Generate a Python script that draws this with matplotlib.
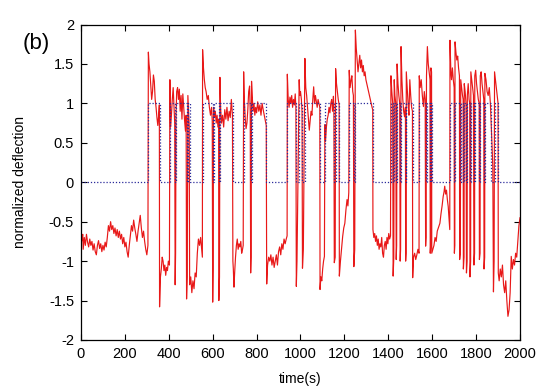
import matplotlib
matplotlib.use('Agg')
import matplotlib.pyplot as plt

# red trace: (time in s, normalized deflection)
trace = [
    (0, -0.78), (5, -0.72), (8, -0.66), (10, -0.85), (15, -0.70), (20, -0.80), (25, -0.66), (30, -0.76), (35, -0.82),
    (40, -0.72), (45, -0.80), (50, -0.75), (55, -0.86), (60, -0.78), (65, -0.88), (70, -0.92), (75, -0.80),
    (80, -0.74), (85, -0.84), (90, -0.78), (95, -0.88), (100, -0.80), (105, -0.86), (110, -0.76), (115, -0.82),
    (120, -0.70), (125, -0.55), (130, -0.62), (135, -0.50), (140, -0.60), (145, -0.55), (150, -0.65), (155, -0.58),
    (160, -0.68), (165, -0.60), (170, -0.70), (175, -0.62), (180, -0.72), (185, -0.66), (190, -0.78), (195, -0.70),
    (200, -0.82), (205, -0.76), (210, -0.88), (215, -0.95), (220, -0.80), (225, -0.68), (230, -0.55), (235, -0.62),
    (240, -0.48), (245, -0.58), (250, -0.66), (255, -0.75), (260, -0.62), (265, -0.52), (270, -0.42), (275, -0.58),
    (280, -0.70), (285, -0.62), (290, -0.75), (295, -0.85), (300, -0.92), (305, -0.80),
    (307, 1.65), (310, 1.50), (314, 1.40), (318, 1.22), (322, 1.05), (326, 1.15), (330, 1.36), (334, 1.28),
    (338, 1.05), (342, 0.95), (346, 0.82), (350, 0.72), (354, 0.85), (357, 0.98),
    (358, -1.58), (362, -1.20), (366, -1.10), (370, -0.95), (374, -1.00), (378, -1.12), (382, -1.05), (386, -1.18),
    (390, -1.08), (394, -1.12), (398, -1.00), (403, -1.05),
    (405, 1.30), (408, 0.70), (412, 0.85), (416, 1.05), (420, 1.20), (424, 0.95), (427, 0.75), (429, -1.30),
    (431, -0.90), (433, 0.85), (436, 1.15), (440, 1.20), (444, 1.05), (448, 1.18), (452, 0.90), (456, 1.10),
    (460, 0.80), (464, 1.12), (468, 0.95), (472, 0.78), (476, 0.65), (479, 0.85), (481, -1.48), (484, -1.20),
    (487, 1.10), (490, 0.90), (493, 0.70), (495, -1.30), (500, -1.20), (505, -1.40), (510, -1.25), (515, -1.35),
    (520, -1.15), (525, -1.20), (530, -0.90), (535, -0.72), (540, -0.80), (545, -0.70), (550, -0.85), (553, -0.95),
    (554, 1.68), (558, 1.45), (562, 1.30), (566, 1.20), (570, 1.15), (575, 1.05), (580, 1.10), (585, 0.95),
    (590, 0.85), (595, 0.95), (598, 0.78), (600, -1.52), (602, -1.10), (604, 0.95), (608, 0.82), (612, 0.90),
    (616, 0.75), (620, 0.85), (624, 0.70), (627, 0.80), (628, -1.50), (631, -1.20), (633, 1.33), (636, 0.95),
    (640, 0.75), (645, 0.85), (650, 0.70), (655, 0.92), (660, 0.80), (665, 0.95), (670, 0.78), (675, 0.90),
    (680, 0.82), (685, 1.05), (690, 0.85), (692, -1.00),
    (694, -1.10), (697, -1.33), (700, -1.15), (704, -0.95), (708, -0.80), (712, -0.72), (716, -0.85), (720, -0.78),
    (724, -0.82), (728, -0.75), (732, -0.90), (736, -0.85), (739, -0.80),
    (741, 1.40), (744, 1.05), (748, 0.82), (752, 0.68), (756, 0.75), (760, 0.92), (764, 1.15), (768, 1.22),
    (771, 0.90), (773, -1.15), (775, -0.95), (777, 1.28), (780, 1.10), (784, 0.90), (788, 1.00), (792, 0.85),
    (796, 0.95), (800, 0.88), (805, 1.02), (810, 0.90), (815, 0.98), (820, 0.85), (825, 1.00), (830, 0.92),
    (835, 0.85), (840, 0.78), (844, 0.72),
    (846, -1.29), (850, -1.05), (855, -0.95), (860, -1.00), (865, -0.92), (870, -1.05), (875, -0.95), (880, -1.08),
    (885, -1.00), (890, -0.92), (895, -1.05), (900, -0.88), (905, -0.82), (910, -0.92), (915, -0.78), (920, -0.85),
    (925, -0.72), (930, -0.78), (935, -0.72), (939, -0.68),
    (940, 1.37), (944, 1.05), (948, 0.95), (952, 1.08), (956, 1.00), (960, 1.10), (964, 0.95), (968, 1.05),
    (972, 0.98), (976, 1.12), (979, 0.95), (981, -1.32), (984, -1.00), (994, 1.30), (997, 1.10), (1000, 1.15),
    (1004, 1.05), (1007, 0.90), (1009, -1.09), (1013, -0.85), (1020, 1.57), (1024, 1.20), (1028, 1.10), (1032, 0.95),
    (1036, 0.80), (1040, 0.66), (1044, 0.78), (1048, 0.90), (1052, 0.85), (1056, 1.05), (1060, 1.21), (1064, 1.00),
    (1068, 1.10), (1072, 1.02), (1076, 0.95), (1080, 1.05), (1084, 1.00), (1088, 0.95), (1089, -1.36), (1093, -1.20),
    (1097, -1.25), (1101, -1.10), (1105, -1.00), (1109, -0.94), (1111, 0.73), (1114, 0.52), (1118, 0.70), (1122, 0.80),
    (1126, 0.85), (1130, 0.95), (1134, 0.88), (1138, 1.00), (1142, 1.05), (1146, 0.90), (1150, 1.09), (1152, 0.95),
    (1154, -1.02), (1158, -0.95), (1160, 1.44), (1164, 1.25), (1168, 1.15), (1172, 1.05), (1176, 0.98), (1177, -1.19),
    (1182, -1.00), (1187, -0.85), (1192, -0.69), (1197, -0.58), (1202, -0.52), (1207, -0.35), (1212, -0.22), (1216, -0.30),
    (1220, -0.13), (1222, 1.42), (1226, 1.20), (1230, 1.29), (1234, 1.35), (1238, 1.15), (1241, 1.10), (1243, -1.07),
    (1247, -0.85), (1250, 1.93), (1254, 1.70), (1258, 1.55), (1262, 1.40), (1266, 1.50), (1270, 1.61), (1274, 1.45),
    (1278, 1.55), (1282, 1.40), (1286, 1.48), (1290, 1.35), (1294, 1.40), (1298, 1.30), (1302, 1.25), (1306, 1.20),
    (1310, 1.15), (1314, 1.10), (1318, 1.05), (1322, 1.00), (1326, 0.95), (1329, 0.92),
    (1330, -0.60), (1334, -0.70), (1338, -0.65), (1342, -0.75), (1346, -0.68), (1350, -0.80), (1354, -0.72), (1358, -0.85),
    (1362, -0.78), (1366, -0.82), (1370, -0.70), (1374, -0.90), (1378, -0.95), (1382, -0.80), (1386, -0.75), (1390, -0.85),
    (1394, -0.70), (1398, -0.78), (1402, -0.65), (1406, -0.72), (1410, -0.68),
    (1412, 1.35), (1416, 1.15), (1420, 1.00), (1422, -1.19), (1425, -0.95), (1427, 1.30), (1430, 1.10), (1434, 1.00),
    (1436, -0.98), (1438, -0.80), (1440, 1.50), (1444, 1.25), (1448, 1.10), (1452, 1.00), (1454, -1.00), (1456, -0.85),
    (1458, 1.72), (1462, 1.30), (1466, 1.05), (1470, 0.90), (1474, 0.83), (1478, 0.95), (1479, -1.00), (1481, -0.90),
    (1482, 1.40), (1486, 1.20), (1490, 1.00), (1494, 0.85), (1498, 1.30), (1502, 1.10), (1506, 0.95), (1510, 0.90),
    (1511, -1.21), (1515, -0.95), (1520, -0.90), (1525, -0.98), (1530, -0.92), (1535, -0.85), (1540, -0.90),
    (1541, 1.35), (1545, 1.20), (1550, 1.30), (1555, 1.10), (1560, 0.96), (1564, 1.15), (1568, 1.05), (1570, -0.81),
    (1572, -0.70), (1574, 1.35), (1578, 1.72), (1582, 1.50), (1586, 1.40), (1590, 1.30), (1591, -0.90), (1593, -0.80),
    (1594, 1.45), (1597, 1.40),
    (1598, -0.90), (1603, -0.85), (1608, -0.80), (1613, -0.70), (1618, -0.75), (1623, -0.62), (1628, -0.58), (1635, -0.52),
    (1640, -0.40), (1645, -0.30), (1650, -0.18), (1654, -0.12), (1657, -0.05), (1661, -0.15), (1665, -0.10), (1669, -0.22),
    (1673, -0.31), (1677, -0.48), (1680, -0.60),
    (1681, 1.80), (1685, 1.40), (1688, 1.30), (1692, 1.45), (1696, 1.30), (1700, 1.20), (1701, -0.90), (1703, -0.80),
    (1704, 1.78), (1708, 1.65), (1712, 1.55), (1716, 1.60), (1720, 1.45), (1724, 1.35), (1725, -0.98), (1728, -0.90),
    (1730, 1.30), (1734, 1.20), (1738, 1.10), (1741, 1.05), (1742, -1.10), (1745, -0.95), (1746, 1.25), (1750, 1.15),
    (1754, 1.00), (1756, -1.15), (1759, -1.00), (1760, 1.10), (1764, 1.25), (1768, 1.05), (1771, 1.00), (1772, -1.20),
    (1775, -1.00), (1776, 1.40), (1780, 1.30), (1784, 1.20), (1788, 1.10), (1790, -1.05), (1793, -0.90), (1794, 1.35),
    (1798, 1.42), (1802, 1.25), (1806, 1.15), (1810, 1.05), (1814, 1.00), (1815, -0.98), (1818, -0.90), (1819, 1.35),
    (1823, 1.40), (1827, 1.25), (1831, 1.15), (1835, 1.05), (1836, -1.10), (1839, -0.95), (1840, 1.38), (1845, 1.30),
    (1850, 1.15), (1855, 1.10), (1860, 1.20), (1865, 1.00), (1868, 0.80), (1872, 0.50), (1876, 0.20), (1879, -1.39),
    (1882, -1.00), (1884, 1.40), (1888, 1.30), (1892, 1.20), (1896, 1.10), (1900, 1.00),
    (1901, -1.15), (1905, -1.25), (1910, -1.10), (1915, -1.20), (1920, -1.05), (1925, -1.30), (1930, -1.40), (1935, -1.25),
    (1940, -1.50), (1945, -1.70), (1950, -1.62), (1955, -1.40), (1960, -0.94), (1965, -1.10), (1970, -0.98), (1975, -1.05),
    (1980, -0.90), (1985, -0.95), (1990, -0.75), (1995, -0.55), (2000, -0.45),
]
time_s = [p[0] for p in trace]
deflection = [p[1] for p in trace]

# blue dotted two-state fit: starts at 0, toggles 0 <-> 1 at each time
toggle_times = [307, 358, 405, 428, 432, 481, 487, 495, 554, 600, 604, 628, 633, 692,
                741, 773, 777, 845, 940, 980, 994, 1008, 1020, 1089, 1111, 1153, 1160, 1177,
                1222, 1242, 1250, 1329, 1412, 1422, 1427, 1436, 1440, 1454, 1458, 1479, 1482,
                1511, 1541, 1570, 1574, 1591, 1594, 1598, 1681, 1701, 1704, 1725, 1730, 1742,
                1746, 1756, 1760, 1772, 1776, 1790, 1794, 1815, 1819, 1836, 1840, 1870, 1884, 1901]

step_t = [0]
step_v = [0]
state = 0
for t in toggle_times:
    state = 1 - state
    step_t.append(t)
    step_v.append(state)
step_t.append(2000)
step_v.append(state)

plt.rcParams['font.family'] = ['Liberation Sans', 'DejaVu Sans']

fig = plt.figure(figsize=(5.6, 3.89), dpi=100)
ax = fig.add_axes([0.1446, 0.126, 0.7840, 0.811])
ax.plot(time_s, deflection, color='#e81818', lw=0.85)
ax.plot(step_t, step_v, color='#2a2a9a', lw=0.9, ls=(0, (1, 1.5)), drawstyle='steps-post')

ax.set_xlim(0, 2000)
ax.set_ylim(-2, 2)
ax.set_xticks(range(0, 2001, 200))
ax.set_yticks([-2, -1.5, -1, -0.5, 0, 0.5, 1, 1.5, 2])
ax.set_yticklabels(['-2', '-1.5', '-1', '-0.5', '0', '0.5', '1', '1.5', '2'])
ax.tick_params(direction='in', top=True, right=True, length=4, width=0.8, labelsize=10.5, pad=5)
for s in ax.spines.values():
    s.set_linewidth(0.9)
ax.set_xlabel('time(s)', fontsize=10, labelpad=8)
ax.set_ylabel('normalized deflection', fontsize=10, labelpad=16)
fig.text(0.04, 0.875, '(b)', fontsize=16)

fig.savefig('out.png', dpi=100)
